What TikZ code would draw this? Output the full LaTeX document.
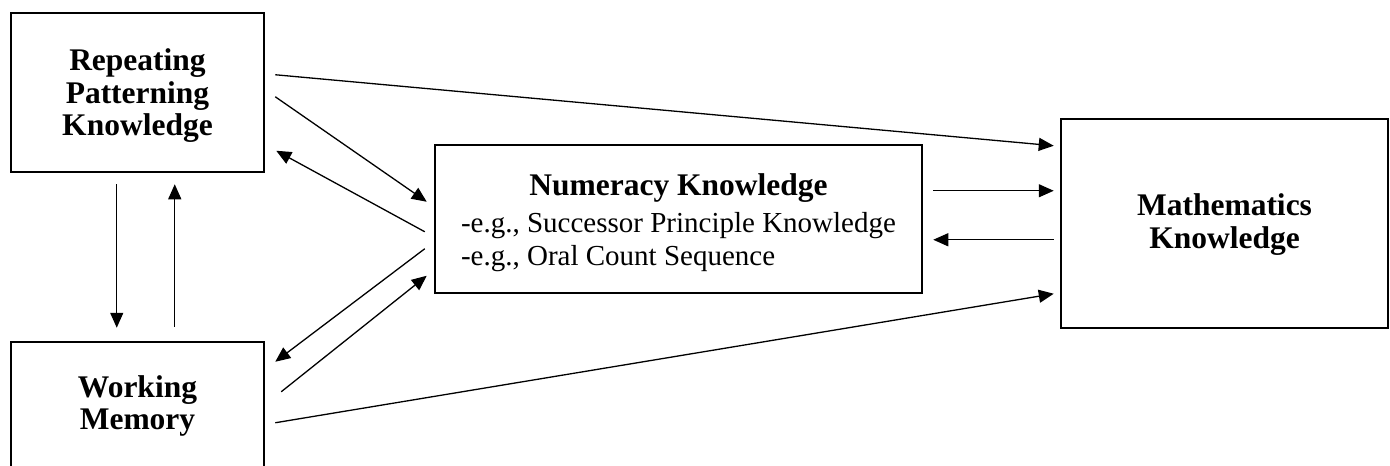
\documentclass[tikz,border=0pt]{standalone}
\usepackage{fontspec}
\setmainfont{Liberation Serif}
\usetikzlibrary{arrows.meta}
\begin{document}
\begin{tikzpicture}[x=1pt,y=-1pt,
  box/.style={draw, line width=2.5pt, inner sep=0pt, align=center,
    font=\fontsize{31.5}{32.5}\selectfont\bfseries},
  conn/.style={line width=1.3pt, -{Triangle[length=15pt,width=13pt]}}]
\clip (0,0) rectangle (1390,466);
\fill[white] (0,0) rectangle (1390,466);
\node[box, minimum width=253pt, minimum height=159pt] (RP) at (137.5,92.5)
  {\rule{0pt}{28pt}Repeating\\Patterning\\Knowledge};
\node[box, minimum width=253pt, minimum height=128pt] (WM) at (137.5,406)
  {Working\\Memory};
\node[box, minimum width=487pt, minimum height=148pt] (NK) at (678.5,219)
  {\fontsize{29}{33}\selectfont\mdseries
   \begin{tabular}{@{}l@{}}
   \multicolumn{1}{@{}c@{}}{\rule{0pt}{32pt}\fontsize{31.5}{33}\selectfont\bfseries Numeracy Knowledge}\\[4pt]
   -e.g., Successor Principle Knowledge\\
   -e.g., Oral Count Sequence
   \end{tabular}};
\node[box, minimum width=327pt, minimum height=209pt] (MK) at (1224.5,223.5)
  {\rule{0pt}{24pt}Mathematics\\Knowledge};
% connectors
\draw[conn] ([shift={(10,63)}]RP.north east) -- ([shift={(-6,28)}]MK.north west);
\draw[conn] ([shift={(10,85)}]RP.north east) -- ([shift={(-7,58)}]NK.north west);
\draw[conn] ([shift={(-9,88)}]NK.north west) -- ([shift={(11,139)}]RP.north east);
\draw[conn] ([shift={(-9,105)}]NK.north west) -- ([shift={(10,21)}]WM.north east);
\draw[conn] ([shift={(16,51)}]WM.north east) -- ([shift={(-7,132)}]NK.north west);
\draw[conn] ([shift={(10,82)}]WM.north east) -- ([shift={(-6,176)}]MK.north west);
\draw[conn] ([shift={(10,47)}]NK.north east) -- ([shift={(-6,73)}]MK.north west);
\draw[conn] ([shift={(-6,122)}]MK.north west) -- ([shift={(10,96)}]NK.north east);
\draw[conn] ([shift={(107,11)}]RP.south west) -- ([shift={(107,-13)}]WM.north west);
\draw[conn] ([shift={(165,-14)}]WM.north west) -- ([shift={(165,11)}]RP.south west);
\end{tikzpicture}
\end{document}
